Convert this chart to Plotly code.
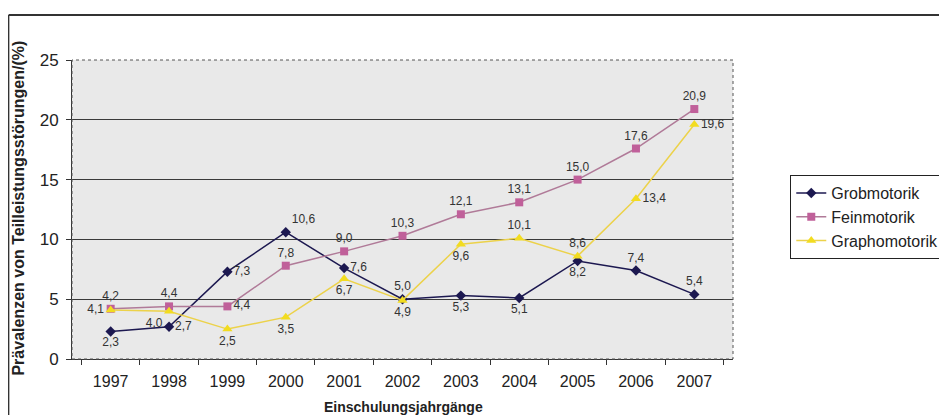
import plotly.graph_objects as go

years = ["1997", "1998", "1999", "2000", "2001", "2002", "2003", "2004", "2005", "2006", "2007"]
grob = [2.3, 2.7, 7.3, 10.6, 7.6, 5.0, 5.3, 5.1, 8.2, 7.4, 5.4]
fein = [4.2, 4.4, 4.4, 7.8, 9.0, 10.3, 12.1, 13.1, 15.0, 17.6, 20.9]
grapho = [4.1, 4.0, 2.5, 3.5, 6.7, 4.9, 9.6, 10.1, 8.6, 13.4, 19.6]

grob_pos = ["bottom center", "middle right", "middle right", "top right", "middle right", "top center",
            "bottom center", "bottom center", "bottom center", "top center", "top center"]
fein_pos = ["top center", "top center", "middle right", "top center", "top center", "top center",
            "top center", "top center", "top center", "top center", "top center"]
grapho_pos = ["middle left", "bottom left", "bottom center", "bottom center", "bottom center", "bottom center",
              "bottom center", "top center", "top center", "middle right", "middle right"]

def lab(vals):
    return [f"{v:.1f}".replace(".", ",") for v in vals]

FONT = "Liberation Sans, Arial, sans-serif"
lblfont = dict(family=FONT, size=12, color="#333333")

fig = go.Figure()
fig.add_trace(go.Scatter(x=years, y=grob, name="Grobmotorik", mode="lines+markers+text",
                         line=dict(color="#1c1850", width=1.5),
                         marker=dict(symbol="diamond", size=8, color="#1c1850"),
                         text=lab(grob), textposition=grob_pos, textfont=lblfont))
fig.add_trace(go.Scatter(x=years, y=fein, name="Feinmotorik", mode="lines+markers+text",
                         line=dict(color="#b07a98", width=1.5),
                         marker=dict(symbol="square", size=8, color="#c0609a"),
                         text=lab(fein), textposition=fein_pos, textfont=lblfont))
fig.add_trace(go.Scatter(x=years, y=grapho, name="Graphomotorik", mode="lines+markers+text",
                         line=dict(color="#ecd24a", width=1.5),
                         marker=dict(symbol="triangle-up", size=9, color="#f2dc20"),
                         text=lab(grapho), textposition=grapho_pos, textfont=lblfont))

fig.update_layout(
    width=947, height=415,
    margin=dict(l=64, r=221, t=52, b=64),
    paper_bgcolor="white",
    plot_bgcolor="#e9e9e9",
    font=dict(family=FONT, size=13, color="#222222"),
    showlegend=True,
    legend=dict(x=1.085, y=0.615, xanchor="left", yanchor="top",
                bgcolor="white", bordercolor="#222222", borderwidth=1,
                font=dict(size=16, color="#222222"), tracegroupgap=0,
                itemwidth=30),
    xaxis=dict(type="category", tickson="boundaries", ticks="outside", ticklen=5,
               tickcolor="#333", showgrid=False, showline=True, linecolor="#333",
               tickfont=dict(size=16), zeroline=False, ticklabelstandoff=8),
    yaxis=dict(range=[0, 25], tickvals=[0, 5, 10, 15, 20, 25], ticks="outside", ticklen=5,
               tickcolor="#333", showgrid=True, gridcolor="#3a3a3a", gridwidth=1,
               showline=True, linecolor="#333", tickfont=dict(size=17), zeroline=False,
               ticklabelstandoff=4),
    annotations=[
        dict(text="<b>Einschulungsjahrgänge</b>", xref="paper", yref="paper", x=0.5015, y=-0.127,
             xanchor="center", yanchor="top", showarrow=False, font=dict(size=14)),
        dict(text="<b>Prävalenzen von Teilleistungsstörungen/(%)</b>", xref="paper", yref="paper",
             x=-0.0816, y=-0.0635, xanchor="center", yanchor="bottom", textangle=-90,
             showarrow=False, font=dict(size=16)),
    ],
    shapes=[
        dict(type="rect", xref="paper", yref="paper", x0=0, x1=1, y0=0, y1=1,
             line=dict(color="#555", width=1, dash="dot")),
        dict(type="line", xref="paper", yref="paper", x0=-0.0959, x1=1.35, y0=1.1505, y1=1.1505,
             line=dict(color="#333", width=2)),
        dict(type="line", xref="paper", yref="paper", x0=-0.0959, x1=-0.0959, y0=1.1505, y1=-0.19,
             line=dict(color="#333", width=1.5)),
    ],
)

fig.write_html("out.html")
